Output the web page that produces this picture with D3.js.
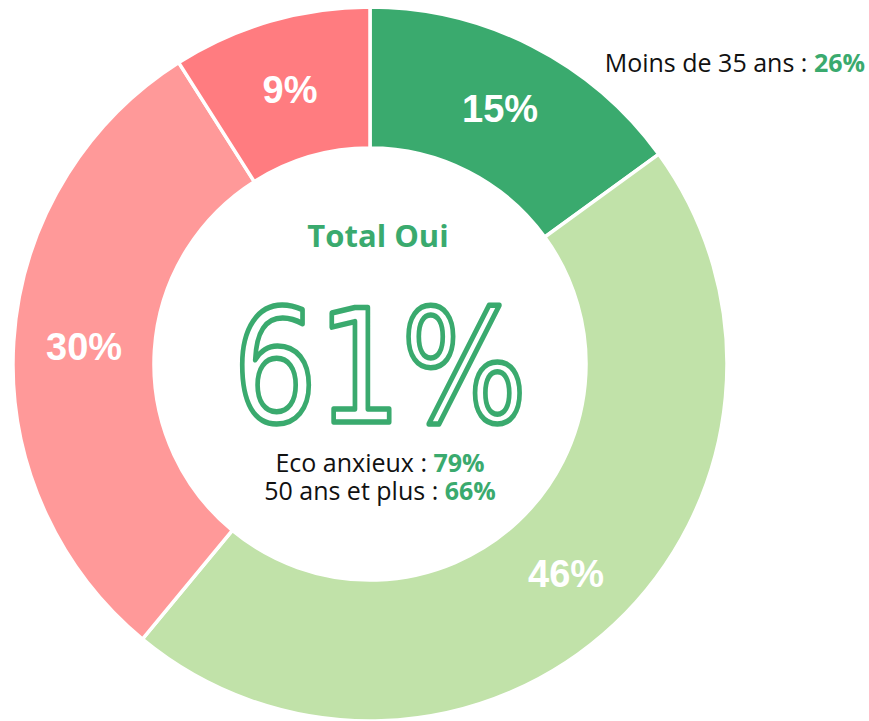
<!DOCTYPE html>
<html>
<head>
<meta charset="utf-8">
<script src="https://cdn.jsdelivr.net/npm/d3@7"></script>
<style>
  body { margin: 0; background: #fff; }
  svg { display: block; }
</style>
</head>
<body>
<div id="chart"></div>
<script>
var width = 869,
    height = 721,
    cx = 370,
    cy = 364,
    outerR = 357,
    innerR = 216;

// data
var categories = ["Oui, tout à fait", "Oui, plutôt", "Non, plutôt pas", "Non, pas du tout"];
var values = [15, 46, 30, 9];
var colors = ["#3aaa6e", "#c1e2a9", "#ff9999", "#ff7c80"];
var totalLabel = "Total Oui";
var totalValue = "61%";
var subLabels = ["Eco anxieux : ", "50 ans et plus : "];
var subValues = ["79%", "66%"];
var sideLabel = "Moins de 35 ans : ";
var sideValue = "26%";

var green = "#3aaa6e";
var textFont = "'Open Sans', sans-serif";

var svg = d3.select("#chart")
  .append("svg")
  .attr("width", width)
  .attr("height", height);

var pie = d3.pie().sort(null).value(function(d) { return d; });
var arc = d3.arc().innerRadius(innerR).outerRadius(outerR);

var g = svg.append("g")
  .attr("transform", "translate(" + cx + "," + cy + ")");

var slices = g.selectAll("g.slice")
  .data(pie(values))
  .enter().append("g")
  .attr("class", "slice");

slices.append("path")
  .attr("d", arc)
  .attr("fill", function(d, i) { return colors[i]; })
  .attr("stroke", "#fff")
  .attr("stroke-width", 3.5);

slices.append("text")
  .attr("transform", function(d) { return "translate(" + arc.centroid(d) + ")"; })
  .attr("text-anchor", "middle")
  .attr("dy", "0.36em")
  .attr("fill", "#fff")
  .style("font-family", "'Liberation Sans', Arial, sans-serif")
  .style("font-weight", "bold")
  .style("font-size", "38px")
  .text(function(d) { return d.data + "%"; });

// centre texts
g.append("text")
  .attr("x", 8)
  .attr("y", -117)
  .attr("text-anchor", "middle")
  .attr("fill", green)
  .style("font-family", textFont)
  .style("font-weight", "bold")
  .style("font-size", "31px")
  .text(totalLabel);

g.append("text")
  .attr("x", 10)
  .attr("y", 58)
  .attr("text-anchor", "middle")
  .attr("fill", "none")
  .attr("stroke", green)
  .attr("stroke-width", 5.5)
  .attr("stroke-linejoin", "round")
  .attr("textLength", 294)
  .attr("lengthAdjust", "spacingAndGlyphs")
  .style("font-family", "'DejaVu Sans', sans-serif")
  .style("font-size", "156px")
  .text(totalValue);

subLabels.forEach(function(lab, i) {
  var t = g.append("text")
    .attr("x", 10)
    .attr("y", 108 + i * 28)
    .attr("text-anchor", "middle")
    .style("font-family", textFont)
    .style("font-size", "25px")
    .attr("fill", "#111");
  t.append("tspan").text(lab);
  t.append("tspan").attr("fill", green).style("font-weight", "bold").text(subValues[i]);
});

var side = svg.append("text")
  .attr("x", 865)
  .attr("y", 72)
  .attr("text-anchor", "end")
  .style("font-family", textFont)
  .style("font-size", "25px")
  .attr("fill", "#111");
side.append("tspan").text(sideLabel);
side.append("tspan").attr("fill", green).style("font-weight", "bold").text(sideValue);
</script>
</body>
</html>
